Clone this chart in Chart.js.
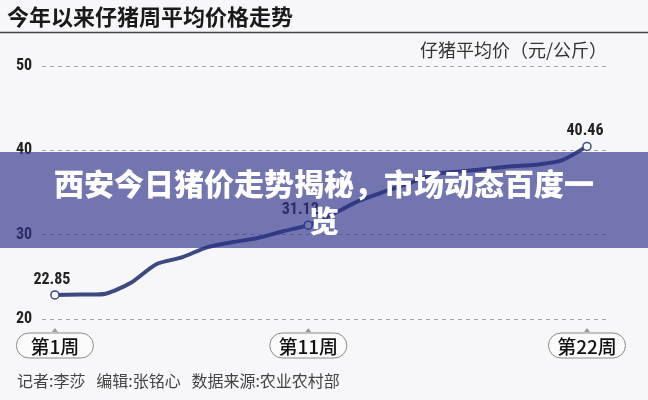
<!DOCTYPE html>
<html>
<head>
<meta charset="utf-8">
<script src="https://cdn.jsdelivr.net/npm/chart.js@4/dist/chart.umd.min.js"></script>
<style>
    html, body { margin: 0; padding: 0; background: #f7f7f9; }
    #wrap { position: relative; width: 648px; height: 400px; }
</style>
</head>
<body>
<div id="wrap"><canvas id="chart" width="648" height="400"></canvas></div>
<script>
    // Chart data
    const weeks = [1, 2, 3, 4, 5, 6, 7, 8, 9, 10, 11, 12, 13, 14, 15, 16, 17, 18, 19, 20, 21, 22];
    const prices = [22.85, 22.9, 23.0, 24.3, 26.5, 27.3, 28.5, 29.1, 29.6, 30.4, 31.12,
        32.5, 34.0, 35.1, 36.1, 37.2, 37.5, 37.8, 38.1, 38.3, 38.8, 40.46];
    const labeledWeeks = [1, 11, 22];
    const weekLabels = ['第1周', '第11周', '第22周'];
    const yTicks = [20, 30, 40, 50];

    const titleText = '今年以来仔猪周平均价格走势';
    const unitText = '仔猪平均价（元/公斤）';
    const footerText = '记者:李莎   编辑:张铭心   数据来源:农业农村部';
    const bannerLines = ['西安今日猪价走势揭秘，市场动态百度一', '览'];

    const LINE = '#3b4a80';
    const CJK = '"Noto Sans CJK SC", "Noto Sans", sans-serif';
    const NARROW = '"Liberation Sans Narrow", "Roboto Condensed", "Liberation Sans", sans-serif';

    // Draws title, axis labels, pills, footer and banner
    const decor = {
        id: 'decor',
        beforeDraw(chart) {
            const ctx = chart.ctx;
            ctx.save();
            ctx.fillStyle = '#f7f7f9';
            ctx.fillRect(0, 0, chart.width, chart.height);

            ctx.fillStyle = '#1a1a1a';
            ctx.font = 'bold 22px ' + CJK;
            ctx.textBaseline = 'middle';
            ctx.textAlign = 'left';
            ctx.fillText(titleText, 7, 17);

            ctx.strokeStyle = '#444';
            ctx.lineWidth = 1.5;
            ctx.beginPath();
            ctx.moveTo(0, 32.5);
            ctx.lineTo(chart.width, 32.5);
            ctx.stroke();

            ctx.fillStyle = '#333';
            ctx.font = '18px ' + CJK;
            ctx.textAlign = 'right';
            ctx.fillText(unitText, 607, 50);
            ctx.restore();
        },
        afterDatasetsDraw(chart) {
            const ctx = chart.ctx;
            const x = chart.scales.x;
            const y = chart.scales.y;
            const meta = chart.getDatasetMeta(0);
            ctx.save();

            // y tick labels
            ctx.fillStyle = '#222';
            ctx.font = 'bold 16px ' + NARROW;
            ctx.textAlign = 'left';
            ctx.textBaseline = 'middle';
            yTicks.forEach(v => ctx.fillText(String(v), 16, y.getPixelForValue(v)));

            // value labels on marked points
            ctx.textAlign = 'center';
            ctx.textBaseline = 'bottom';
            labeledWeeks.forEach(w => {
                const i = weeks.indexOf(w);
                const p = meta.data[i];
                const dx = i === 0 ? -3 : (i === weeks.length - 1 ? -2 : -8);
                ctx.fillText(prices[i].toFixed(2), p.x + dx, p.y - 7);
            });

            // week pills
            labeledWeeks.forEach((w, k) => {
                const cx = x.getPixelForValue(w);
                ctx.fillStyle = '#999';
                ctx.beginPath();
                ctx.moveTo(cx - 3, 332);
                ctx.lineTo(cx + 3, 332);
                ctx.lineTo(cx, 328);
                ctx.closePath();
                ctx.fill();

                const wdt = 77, h = 25, top = 333;
                ctx.beginPath();
                ctx.roundRect(cx - wdt / 2, top, wdt, h, h / 2);
                ctx.fillStyle = '#fbfbfc';
                ctx.fill();
                ctx.strokeStyle = '#8a8a8a';
                ctx.lineWidth = 1;
                ctx.stroke();

                ctx.fillStyle = '#111';
                ctx.font = '500 19px ' + CJK;
                ctx.textBaseline = 'middle';
                ctx.fillText(weekLabels[k], cx, top + h / 2 + 1);
            });

            // footer
            ctx.fillStyle = '#444';
            ctx.font = '16px ' + CJK;
            ctx.textAlign = 'left';
            ctx.textBaseline = 'middle';
            ctx.fillText(footerText, 17, 381);
            ctx.restore();
        },
        afterDraw(chart) {
            const ctx = chart.ctx;
            ctx.save();
            ctx.fillStyle = 'rgba(45, 50, 137, 0.66)';
            ctx.fillRect(0, 152, chart.width, 96);
            ctx.fillStyle = '#fff';
            ctx.font = '900 30px ' + CJK;
            ctx.textAlign = 'center';
            ctx.textBaseline = 'middle';
            ctx.fillText(bannerLines[0], 324, 184);
            ctx.fillText(bannerLines[1], 324, 221);
            ctx.restore();
        }
    };

    new Chart(document.getElementById('chart'), {
        type: 'line',
        data: {
            datasets: [{
                data: weeks.map((w, i) => ({ x: w, y: prices[i] })),
                borderColor: LINE,
                borderWidth: 4,
                tension: 0.25,
                pointRadius: weeks.map(w => labeledWeeks.includes(w) ? 4 : 0),
                pointBackgroundColor: '#fff',
                pointBorderColor: LINE,
                pointBorderWidth: 1.5
            }]
        },
        options: {
            responsive: false,
            animation: false,
            events: [],
            layout: { padding: { left: 42, right: 41, top: 66, bottom: 81 } },
            plugins: { legend: { display: false }, tooltip: { enabled: false } },
            scales: {
                x: {
                    type: 'linear',
                    display: false,
                    min: 0.49,
                    max: 22.79
                },
                y: {
                    min: 20,
                    max: 50,
                    ticks: { display: false, stepSize: 10 },
                    grid: { color: '#a8a8a8', lineWidth: 1, drawTicks: false },
                    border: { display: false, dash: [4, 4] }
                }
            }
        },
        plugins: [decor]
    });
</script>
</body>
</html>
